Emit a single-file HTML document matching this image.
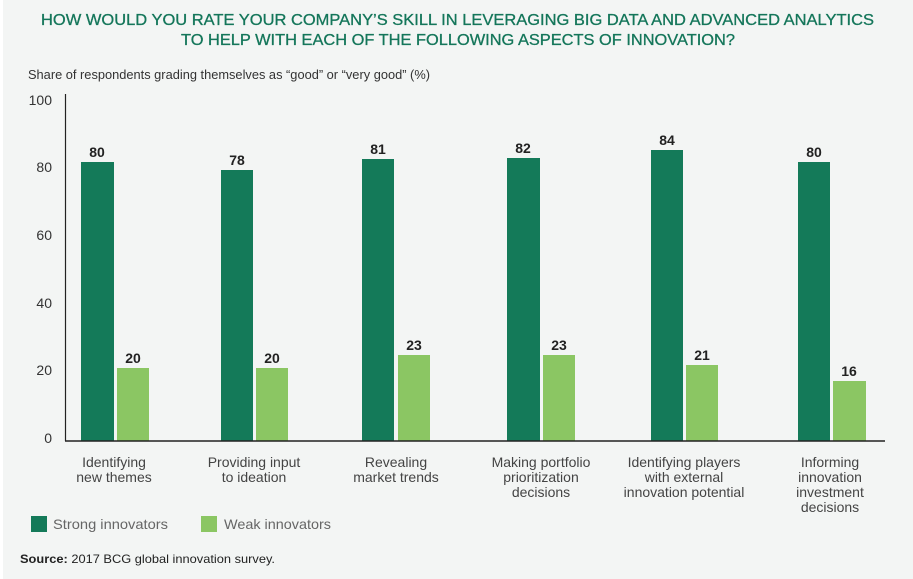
<!DOCTYPE html>
<html><head><meta charset="utf-8"><style>
body{margin:0;background:#fff}
svg{display:block}
text{font-family:"Liberation Sans",sans-serif}
</style></head><body>
<svg width="913" height="579" xmlns="http://www.w3.org/2000/svg">
<rect x="3" y="0" width="910" height="579" fill="#f3f5f4"/>
<g fill="#14765a" font-size="16" stroke="#14765a" stroke-width="0.3">
<text x="41" y="25" textLength="833" lengthAdjust="spacingAndGlyphs">HOW WOULD YOU RATE YOUR COMPANY’S SKILL IN LEVERAGING BIG DATA AND ADVANCED ANALYTICS</text>
<text x="181" y="45" textLength="554" lengthAdjust="spacingAndGlyphs">TO HELP WITH EACH OF THE FOLLOWING ASPECTS OF INNOVATION?</text>
</g>
<text x="28" y="79" font-size="12.5" fill="#333" textLength="402" lengthAdjust="spacingAndGlyphs">Share of respondents grading themselves as “good” or “very good” (%)</text>
<g font-size="14" fill="#333" text-anchor="end">
<text x="52" y="105">100</text><text x="52" y="172">80</text><text x="52" y="240">60</text>
<text x="52" y="308">40</text><text x="52" y="375">20</text><text x="52" y="443">0</text>
</g>
<g fill="#147a59">
<rect x="81" y="162" width="33" height="279"/>
<rect x="221" y="170" width="32" height="271"/>
<rect x="362" y="159" width="32" height="282"/>
<rect x="507" y="158" width="33" height="283"/>
<rect x="651" y="150" width="32" height="291"/>
<rect x="798" y="162" width="32" height="279"/>
</g>
<g fill="#8bc663">
<rect x="117" y="368" width="32" height="73"/>
<rect x="256" y="368" width="32" height="73"/>
<rect x="398" y="355" width="32" height="86"/>
<rect x="543" y="355" width="32" height="86"/>
<rect x="686" y="365" width="32" height="76"/>
<rect x="833" y="381" width="33" height="60"/>
</g>
<g font-size="14" font-weight="bold" fill="#222" text-anchor="middle">
<text x="97" y="157">80</text><text x="237" y="165">78</text><text x="378" y="154">81</text>
<text x="523" y="153">82</text><text x="667" y="145">84</text><text x="814" y="157">80</text>
<text x="133" y="363">20</text><text x="272" y="363">20</text><text x="414" y="350">23</text>
<text x="559" y="350">23</text><text x="702" y="360">21</text><text x="849" y="376">16</text>
</g>
<line x1="65.5" y1="94" x2="65.5" y2="441" stroke="#222" stroke-width="1.2"/>
<line x1="65" y1="441" x2="885" y2="441" stroke="#222" stroke-width="1.5"/>
<g font-size="14" fill="#444" text-anchor="middle">
<text x="114" y="467">Identifying</text><text x="114" y="482">new themes</text>
<text x="254" y="467">Providing input</text><text x="254" y="482">to ideation</text>
<text x="396" y="467">Revealing</text><text x="396" y="482">market trends</text>
<text x="541" y="467">Making portfolio</text><text x="541" y="482">prioritization</text><text x="541" y="497">decisions</text>
<text x="684" y="467">Identifying players</text><text x="684" y="482">with external</text><text x="684" y="497">innovation potential</text>
<text x="830" y="467">Informing</text><text x="830" y="482">innovation</text><text x="830" y="497">investment</text><text x="830" y="512">decisions</text>
</g>
<rect x="31" y="516" width="16" height="16" fill="#147a59"/>
<rect x="201" y="516" width="16" height="16" fill="#8bc663"/>
<g font-size="14" fill="#666">
<text x="53" y="529" textLength="115" lengthAdjust="spacingAndGlyphs">Strong innovators</text>
<text x="224" y="529" textLength="107" lengthAdjust="spacingAndGlyphs">Weak innovators</text>
</g>
<text x="20" y="563" font-size="12" fill="#222" textLength="255" lengthAdjust="spacingAndGlyphs"><tspan font-weight="bold">Source:</tspan> 2017 BCG global innovation survey.</text>
</svg>
</body></html>
